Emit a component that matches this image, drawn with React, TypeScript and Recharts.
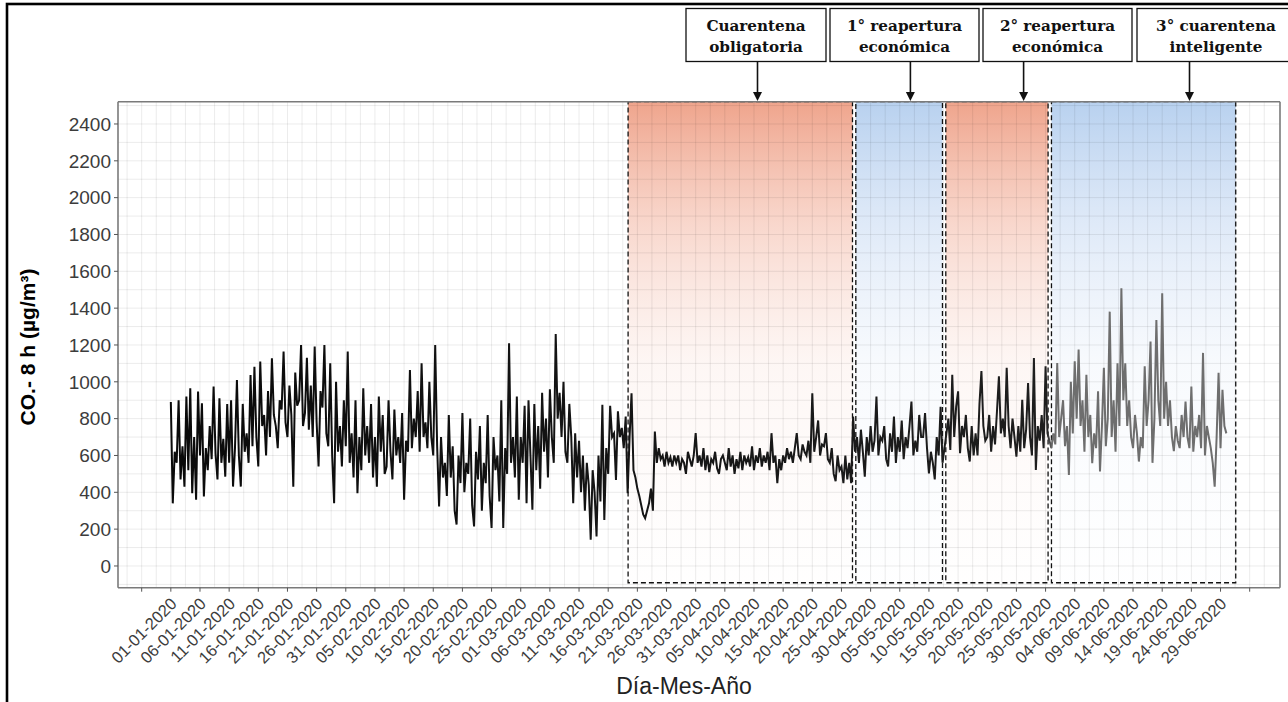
import React from 'react';
import { LineChart, Line, XAxis, YAxis, ReferenceArea, ReferenceLine } from 'recharts';

// CO 8-h values, three per day
const jan = [
  890, 340, 620, 560, 900, 470, 650, 430, 920, 520, 965, 395, 700, 360, 947,
  600, 884, 377, 640, 520, 760, 580, 974, 610, 470, 911, 560, 690, 485, 880,
  560, 900, 431, 640, 1010, 600, 431, 880, 620, 720, 560, 1037, 650, 1082, 700,
  540, 1110, 760, 820, 600, 950, 700, 1128, 820, 760, 640, 900, 850, 1164, 780,
  700, 980, 820, 430, 1050, 870, 900, 1200, 760, 830, 1130, 740, 980, 700, 1191,
  780, 540, 950, 860, 1200, 720, 650, 1100, 600, 341, 1000, 620, 760, 540, 900,
  650, 1164, 560,
];
const feb = [
  720, 480, 900, 395, 700, 520, 965, 600, 760, 560, 880, 480, 700, 430, 920,
  620, 820, 500, 540, 900, 620, 470, 850, 600, 700, 560, 830, 360, 680, 620,
  1064, 640, 800, 700, 950, 620, 1100, 700, 780, 640, 1000, 700, 600, 1200, 650,
  323, 700, 480, 560, 380, 820, 480, 650, 300, 225, 600, 450, 830, 400, 560,
  500, 800, 330, 215, 620, 470, 760, 300, 560, 450, 820, 380, 206, 700, 520,
  600, 350, 900, 206, 640, 500, 1209, 560, 700, 480, 920, 360,
];
const mar = [
  700, 560, 870, 341, 900, 600, 305, 880, 520, 760, 420, 940, 620, 800, 480,
  960, 700, 560, 1260, 800, 940, 700, 1000, 620, 560, 880, 700, 341, 720, 480,
  680, 400, 600, 300, 560, 440, 142, 520, 400, 160, 600, 350, 875, 250, 640,
  500, 870, 700, 720, 467, 840, 700, 750, 640, 811, 395, 700, 938, 520, 480,
  420, 380, 330, 280, 259, 300, 340, 420, 300, 730, 560, 640, 580, 600, 540,
  620, 560, 590, 540, 600, 560, 600, 520, 580, 560, 500, 620, 580, 540, 600,
  721, 560, 600,
];
const apr = [
  540, 640, 520, 600, 510, 580, 560, 620, 530, 500, 580, 600, 560, 520, 640,
  540, 600, 500, 580, 530, 620, 520, 600, 560, 590, 540, 650, 520, 600, 560,
  640, 540, 600, 560, 620, 520, 721, 560, 600, 449, 580, 520, 600, 560, 640,
  580, 620, 560, 640, 721, 600, 580, 660, 620, 600, 680, 560, 938, 620, 700,
  790, 600, 660, 650, 721, 580, 560, 640, 500, 460, 600, 520, 540, 450, 600,
  470, 560, 450, 811, 620, 700, 560, 740, 620, 485, 700, 600, 760, 620, 680,
];
const may = [
  920, 600, 700, 680, 760, 580, 540, 720, 620, 811, 560, 700, 620, 790, 580,
  700, 640, 760, 893, 600, 680, 620, 820, 700, 700, 830, 640, 503, 620, 560,
  470, 700, 600, 865, 560, 640, 720, 800, 630, 1038, 700, 865, 948, 612, 760,
  700, 820, 640, 567, 760, 600, 720, 600, 880, 1058, 760, 680, 700, 820, 620,
  760, 660, 840, 1030, 720, 800, 700, 1076, 760, 640, 800, 700, 594, 760, 620,
  902, 640, 740, 993, 700, 600, 1129, 521, 760, 680, 820, 640, 1084, 720, 680,
  640, 720, 660,
];
const jun = [
  1102, 700, 800, 900, 650, 760, 494, 1000, 720, 1111, 800, 1175, 760, 900, 620,
  1038, 700, 820, 558, 720, 640, 948, 513, 760, 1076, 650, 800, 1381, 700, 900,
  620, 1100, 760, 1508, 900, 1100, 760, 900, 700, 640, 820, 720, 567, 700, 640,
  1084, 760, 900, 1219, 560, 800, 1336, 900, 760, 1481, 800, 1000, 760, 900, 700,
  623, 760, 680, 640, 820, 700, 893, 700, 640, 975, 620, 760, 700, 820, 640,
  1157, 600, 760, 700, 640, 560, 431, 700, 1049, 640, 957, 760, 720,
];

const xTickLabels = [
  '01-01-2020', '06-01-2020', '11-01-2020', '16-01-2020', '21-01-2020', '26-01-2020',
  '31-01-2020', '05-02-2020', '10-02-2020', '15-02-2020', '20-02-2020', '25-02-2020',
  '01-03-2020', '06-03-2020', '11-03-2020', '16-03-2020', '21-03-2020', '26-03-2020',
  '31-03-2020', '05-04-2020', '10-04-2020', '15-04-2020', '20-04-2020', '25-04-2020',
  '30-04-2020', '05-05-2020', '10-05-2020', '15-05-2020', '20-05-2020', '25-05-2020',
  '30-05-2020', '04-06-2020', '09-06-2020', '14-06-2020', '19-06-2020', '24-06-2020',
  '29-06-2020',
];
const yTicks = [0, 200, 400, 600, 800, 1000, 1200, 1400, 1600, 1800, 2000, 2200, 2400];

// periods in days since 01-01-2020
const periodNames = ['Cuarentena obligatoria', '1° reapertura económica', '2° reapertura económica', '3° cuarentena inteligente'];
const periodStart = [78.41, 117.46, 132.89, 151.01];
const periodEnd = [116.89, 132.32, 150.43, 182.61];
const periodFill = ['url(#gPink)', 'url(#gBlue)', 'url(#gPink)', 'url(#gBlue)'];

const X_MIN = -9.06;
const X_MAX = 190.2;
const Y_MIN = -118;
const Y_MAX = 2521;

const values = [...jan, ...feb, ...mar, ...apr, ...may, ...jun];
const data = values.map((v, i) => ({ t: i / 3, co: v }));

const xTicks: number[] = [];
for (let d = -5; d <= 185; d += 5) xTicks.push(d);
const xGrid: number[] = [];
for (let d = -7.5; d <= 187.5; d += 2.5) xGrid.push(d);
const yGrid: number[] = [];
for (let v = -100; v <= 2500; v += 100) yGrid.push(v);

const tickFont = '"Liberation Sans", Arial, sans-serif';
const boxFont = '"DejaVu Serif", serif';

const XTick = (props: any) => {
  const { x, y, payload } = props;
  const idx = payload.value / 5;
  const label = idx >= 0 && idx < xTickLabels.length ? xTickLabels[idx] : '';
  const tx = x + 7;
  const ty = y + 11;
  return (
    <text x={tx} y={ty} textAnchor="end" transform={`rotate(-45, ${tx}, ${ty})`}
      fontSize={16.5} fill="#3c3c3c" fontFamily={tickFont}>
      {label}
    </text>
  );
};

const boxes = [
  { x: 686, w: 140, arrow: 757.5, lines: ['Cuarentena', 'obligatoria'] },
  { x: 830, w: 149, arrow: 910.4, lines: ['1° reapertura', 'económica'] },
  { x: 983, w: 149, arrow: 1023.6, lines: ['2° reapertura', 'económica'] },
  { x: 1137, w: 158, arrow: 1189.5, lines: ['3° cuarentena', 'inteligente'] },
];

const Overlay = () => (
  <svg width={1288} height={702} style={{ position: 'absolute', left: 0, top: 0, pointerEvents: 'none' }}>
    <rect x={7} y={4} width={1300} height={720} fill="none" stroke="#000" strokeWidth={2.6} />
    {boxes.map((b, i) => (
      <g key={i}>
        <rect x={b.x} y={8.5} width={b.w} height={53} fill="#fff" stroke="#111" strokeWidth={1.3} />
        <text x={b.x + b.w / 2} y={31} textAnchor="middle" fontFamily={boxFont}
          fontWeight="bold" fontSize={15.2} fill="#111">{b.lines[0]}</text>
        <text x={b.x + b.w / 2} y={51.5} textAnchor="middle" fontFamily={boxFont}
          fontWeight="bold" fontSize={15.2} fill="#111">{b.lines[1]}</text>
        <line x1={b.arrow} y1={61.5} x2={b.arrow} y2={93} stroke="#111" strokeWidth={1.6} />
        <path d={`M${b.arrow - 4.5},92 L${b.arrow + 4.5},92 L${b.arrow},101 Z`} fill="#111" />
      </g>
    ))}
    <text x={35} y={347} transform="rotate(-90, 35, 347)" textAnchor="middle" fontFamily={tickFont}
      fontWeight="bold" fontSize={21} fill="#000">CO.- 8 h (µg/m³)</text>
    <text x={684} y={694} textAnchor="middle" fontFamily={tickFont} fontSize={23} fill="#222">Día-Mes-Año</text>
  </svg>
);

export default function App() {
  return (
    <div style={{ position: 'absolute', left: 0, top: 0, width: 1288, height: 702, background: '#fff', overflow: 'hidden' }}>
      <LineChart width={1288} height={702} data={data} margin={{ top: 101.7, right: 8, bottom: 0, left: 0 }}>
        <defs>
          <linearGradient id="gPink" x1="0" y1="0" x2="0" y2="1">
            <stop offset="0" stopColor="#efa48c" stopOpacity={1} />
            <stop offset="0.25" stopColor="#f4bba9" stopOpacity={0.6} />
            <stop offset="0.55" stopColor="#f8d6cb" stopOpacity={0.2} />
            <stop offset="1" stopColor="#fbe8e2" stopOpacity={0.03} />
          </linearGradient>
          <linearGradient id="gBlue" x1="0" y1="0" x2="0" y2="1">
            <stop offset="0" stopColor="#b8d1ef" stopOpacity={1} />
            <stop offset="0.25" stopColor="#c9dbf3" stopOpacity={0.6} />
            <stop offset="0.55" stopColor="#dbe7f7" stopOpacity={0.2} />
            <stop offset="1" stopColor="#eaf1fb" stopOpacity={0.03} />
          </linearGradient>
          <linearGradient id="lineStroke" x1="0" y1="0" x2="1" y2="0">
            <stop offset="0" stopColor="#0a0a0a" />
            <stop offset="0.83" stopColor="#1e1e1e" />
            <stop offset="0.835" stopColor="#6e6e6e" />
            <stop offset="1" stopColor="#6e6e6e" />
          </linearGradient>
        </defs>
        <XAxis
          dataKey="t"
          type="number"
          domain={[X_MIN, X_MAX]}
          allowDataOverflow
          ticks={xTicks}
          interval={0}
          height={114.3}
          tick={<XTick />}
          tickSize={4}
          tickMargin={2}
          stroke="#7a7a7a"
          axisLine={{ stroke: '#7a7a7a', strokeWidth: 1.6 }}
          tickLine={{ stroke: '#555' }}
        />
        <YAxis
          type="number"
          domain={[Y_MIN, Y_MAX]}
          allowDataOverflow
          ticks={yTicks}
          interval={0}
          width={118}
          tickSize={4}
          tickMargin={3}
          axisLine={{ stroke: '#7a7a7a', strokeWidth: 1.6 }}
          tickLine={{ stroke: '#555' }}
          tick={{ fontSize: 19, fill: '#3c3c3c', fontFamily: tickFont }}
        />
        {periodNames.map((n, i) => (
          <ReferenceArea key={n} x1={periodStart[i]} x2={periodEnd[i]} y1={-91} y2={Y_MAX}
            fill={periodFill[i]} fillOpacity={1} stroke="#111" strokeDasharray="5 3" strokeWidth={1.3} />
        ))}
        {xGrid.map((d) => (
          <ReferenceLine key={'vx' + d} x={d} stroke="#000" strokeOpacity={0.08} strokeWidth={1} />
        ))}
        {yGrid.map((v) => (
          <ReferenceLine key={'hy' + v} y={v} stroke="#000" strokeOpacity={0.08} strokeWidth={1} />
        ))}
        <ReferenceLine y={Y_MAX} stroke="#7a7a7a" strokeWidth={1.6} />
        <ReferenceLine x={X_MAX} stroke="#7a7a7a" strokeWidth={1.6} />
        <Line type="linear" dataKey="co" stroke="url(#lineStroke)" strokeWidth={2} dot={false}
          isAnimationActive={false} />
      </LineChart>
      <Overlay />
    </div>
  );
}
